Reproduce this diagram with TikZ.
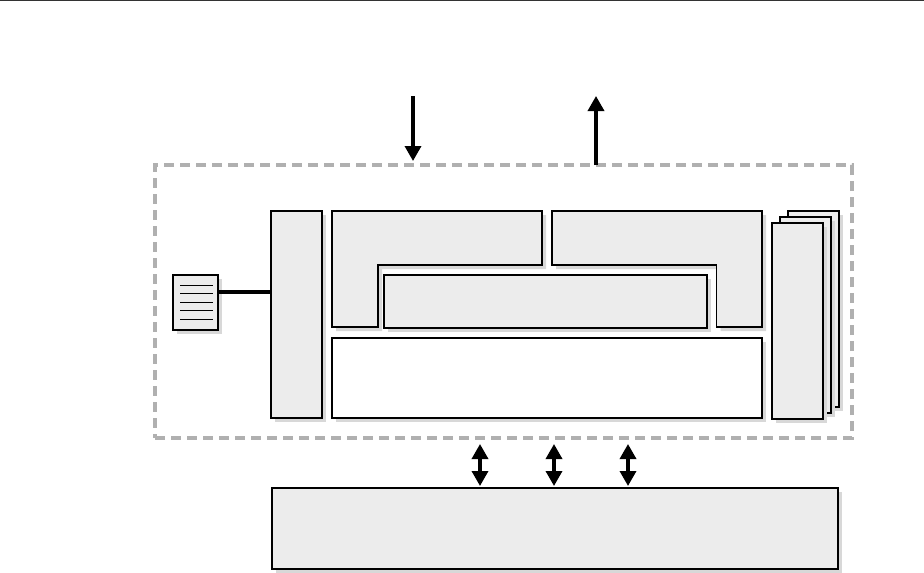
\documentclass[tikz,border=0pt]{standalone}
\usepackage{xcolor}
\usepackage{tikz}
\usetikzlibrary{positioning,arrows.meta,shadows}
\definecolor{boxgray}{HTML}{ECECEC}
\definecolor{shadegray}{HTML}{D8D8D8}
\definecolor{framegray}{HTML}{B0B0B0}

\begin{document}
\begin{tikzpicture}[x=1pt,y=-1pt,
  shade4/.style={general shadow={fill=shadegray,draw=none,shadow xshift=4pt,shadow yshift=-4pt}},
  panel/.style={draw,line width=1.8pt,fill=boxgray,shade4,inner sep=0pt,outer sep=0pt,anchor=north west},
  blank/.style={panel,fill=white},
  frame/.style={draw=framegray,line width=3.6pt,dash pattern=on 10pt off 6pt,inner sep=0pt,outer sep=0pt,anchor=north west},
  flow/.style={line width=3.4pt,-{Triangle[length=15pt,width=16pt]}},
  duplex/.style={line width=3.4pt,{Triangle[length=15pt,width=16pt]}-{Triangle[length=15pt,width=16pt]}}]

  \useasboundingbox (0,0) rectangle (924,573);
  \draw[line width=1pt,black!80] (0,0.5) -- (924,0.5);

  % --- outer dashed boundary ---
  \node[frame,minimum width=697pt,minimum height=273pt] (core) at (155,165) {};

  % --- left column and log sheet ---
  \node[panel,minimum width=51pt,minimum height=207pt] (ctrl) at (271,211) {};
  \node[panel,minimum width=45pt,minimum height=55pt] (sheet) at (173,275) {};
  \foreach \y in {285,293,302,310,319}
    \draw[line width=1pt] (180,\y) -- (213,\y);
  \draw[line width=3.8pt] (sheet.east |- 0,292) -- (ctrl.west |- 0,292);

  % --- L-shaped blocks ---
  \draw[line width=1.8pt,fill=boxgray,shade4]
    (332,211) -- (542,211) -- (542,265) -- (378,265) -- (378,327) -- (332,327) -- cycle;
  \draw[line width=1.8pt,fill=boxgray,shade4]
    (552,211) -- (762,211) -- (762,327) -- (716.5,327) -- (716.5,265) -- (552,265) -- cycle;

  % --- middle blocks ---
  \node[panel,minimum width=323pt,minimum height=53pt] (inner) at (384,275) {};
  \node[blank,minimum width=430pt,minimum height=80pt] (lower) at (332,338) {};

  % --- stacked sheets, back to front ---
  \node[panel,minimum width=51pt,minimum height=196pt] (stackc) at (788,211) {};
  \node[panel,minimum width=51pt,minimum height=196pt] (stackb) at (780,217) {};
  \node[panel,minimum width=51pt,minimum height=196pt] (stacka) at (772,223) {};

  % --- bottom block ---
  \node[panel,minimum width=566pt,minimum height=81pt] (store) at (272,488) {};

  % --- arrows ---
  \coordinate (inlet) at (413,96);
  \coordinate (outlet) at (596,96);
  \draw[flow,shorten >=4pt] (inlet) -- (inlet |- core.north);
  \draw[flow] (outlet |- core.north) -- (outlet);
  \foreach \x/\name in {480/busa,554/busb,628/busc} {
    \coordinate (\name) at (\x,444);
    \draw[duplex,shorten >=2pt] (\name) -- (\name |- store.north);
  }
\end{tikzpicture}
\end{document}
